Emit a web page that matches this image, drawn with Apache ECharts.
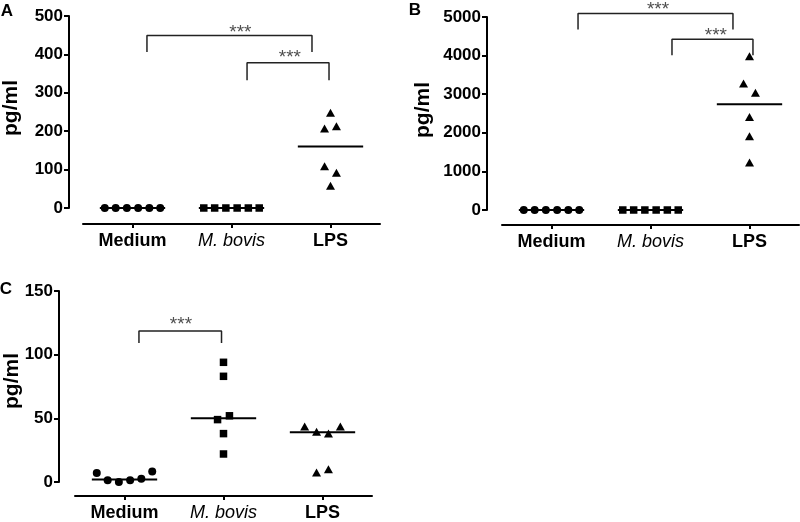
<!DOCTYPE html>
<html>
<head>
<meta charset="utf-8">
<script src="https://cdn.jsdelivr.net/npm/echarts@6/dist/echarts.min.js"></script>
<style>html,body{margin:0;padding:0;background:#fff;}#c{width:800px;height:522px;}</style>
</head>
<body>
<div id="c"></div>
<script>
// ---------- data ----------
const categories = ['Medium', 'M. bovis', 'LPS'];

// Panel A
const aTicks = [0, 100, 200, 300, 400, 500];
const aMedium = [0, 0, 0, 0, 0, 0];
const aBovis = [0, 0, 0, 0, 0, 0];
const aLPS = [248, 207, 213, 109, 92, 58];
const aMedians = [0, 0, 160];
// Panel B
const bTicks = [0, 1000, 2000, 3000, 4000, 5000];
const bMedium = [0, 0, 0, 0, 0, 0];
const bBovis = [0, 0, 0, 0, 0, 0];
const bLPS = [3980, 3280, 3040, 2410, 1910, 1230];
const bMedians = [0, 0, 2740];
// Panel C
const cTicks = [0, 50, 100, 150];
const cMedium = [7, 1.3, 0, 1.3, 2.6, 8.3];
const cBovis = [94, 83, 49, 52, 38, 22];
const cLPS = [43.5, 39.5, 38, 43.5, 7.5, 10];
const cMedians = [2, 50, 39];

// horizontal scatter of points within a category (category units)
const spread6 = [-0.28, -0.17, -0.057, 0.057, 0.17, 0.28];
const aLPSJitter = [0, -0.06, 0.06, -0.06, 0.06, 0];
const bLPSJitter = [0, -0.06, 0.06, 0, 0, 0];
const cBovisJitter = [0, 0, -0.06, 0.06, 0, 0];
const cLPSJitter = [-0.18, -0.06, 0.06, 0.18, -0.06, 0.06];

// significance brackets: [fromCat, toCat, topValue, endValue]
const aBrackets = [[0.146, 1.813, 449, 406], [1.157, 1.985, 378, 333]];
const bBrackets = [[0.268, 1.833, 5088, 4674], [1.217, 2.035, 4422, 4008]];
const cBrackets = [[0.146, 0.98, 118.6, 109.2]];
// star labels: [cat, value]
const aStars = [[1.09, 466], [1.59, 401]];
const bStars = [[1.076, 5303], [1.66, 4630]];
const cStars = [[0.57, 127]];

// ---------- chart ----------
const FONT = 'Liberation Sans, Arial, sans-serif';
const chart = echarts.init(document.getElementById('c'), null, {renderer: 'canvas'});

const grids = [
  {left: 83, top: 16, width: 297, height: 192},
  {left: 502, top: 17, width: 297, height: 193},
  {left: 75, top: 291, width: 297, height: 191}
];
const xOffsets = [16, 15, 14];
const yOffsets = [14, 15, 16];
const panels = [
  {ticks: aTicks, groups: [[aMedium, spread6], [aBovis, spread6], [aLPS, aLPSJitter]], med: aMedians, br: aBrackets, st: aStars},
  {ticks: bTicks, groups: [[bMedium, spread6], [bBovis, spread6], [bLPS, bLPSJitter]], med: bMedians, br: bBrackets, st: bStars},
  {ticks: cTicks, groups: [[cMedium, spread6], [cBovis, cBovisJitter], [cLPS, cLPSJitter]], med: cMedians, br: cBrackets, st: cStars}
];
const symbols = ['circle', 'rect', 'triangle'];
const symSizes = [8, 7.5, [9, 8]];

const xAxis = [], yAxis = [], series = [];
panels.forEach((p, i) => {
  xAxis.push({
    type: 'category', gridIndex: i, data: categories, offset: xOffsets[i],
    boundaryGap: true,
    axisLine: {show: true, onZero: false, lineStyle: {color: '#000', width: 2}},
    axisTick: {show: true, alignWithLabel: true, length: 4, lineStyle: {color: '#000', width: 2}},
    axisLabel: {
      margin: 8, color: '#000',
      formatter: v => v === 'M. bovis' ? '{it|' + v + '}' : '{b|' + v + '}',
      rich: {
        it: {fontFamily: FONT, fontSize: 18, fontStyle: 'italic', fontWeight: 'normal', color: '#000'},
        b: {fontFamily: FONT, fontSize: 18, fontWeight: 'bold', color: '#000'}
      }
    },
    splitLine: {show: false}
  });
  xAxis.push({type: 'value', gridIndex: i, min: -0.5, max: 2.5, show: false,
              axisLine: {onZero: false}});
  const t = p.ticks;
  yAxis.push({
    type: 'value', gridIndex: i, min: t[0], max: t[t.length - 1], interval: t[1] - t[0],
    offset: yOffsets[i],
    axisLine: {show: true, onZero: false, lineStyle: {color: '#000', width: 2}},
    axisTick: {show: true, length: 5, lineStyle: {color: '#000', width: 2}},
    axisLabel: {margin: 6, color: '#000', fontFamily: FONT, fontSize: 17, fontWeight: 'bold',
                formatter: v => String(v)},
    splitLine: {show: false}
  });
  const xi = 2 * i + 1;
  p.groups.forEach((g, k) => {
    const vals = g[0], off = g[1];
    series.push({
      type: 'scatter', xAxisIndex: xi, yAxisIndex: i,
      symbol: symbols[k], symbolSize: symSizes[k],
      itemStyle: {color: '#000', opacity: 1},
      data: vals.map((v, j) => [k + off[j], v]),
      z: 3
    });
    series.push({
      type: 'line', xAxisIndex: xi, yAxisIndex: i, symbol: 'none',
      lineStyle: {color: '#000', width: 2},
      data: [[k - 0.33, p.med[k]], [k + 0.33, p.med[k]]],
      z: 2
    });
  });
  p.br.forEach(b => {
    series.push({
      type: 'line', xAxisIndex: xi, yAxisIndex: i, symbol: 'none', clip: false,
      lineStyle: {color: '#222', width: 1.5},
      data: [[b[0], b[3]], [b[0], b[2]], [b[1], b[2]], [b[1], b[3]]]
    });
  });
  series.push({
    type: 'scatter', xAxisIndex: xi, yAxisIndex: i, clip: false,
    symbolSize: 1, itemStyle: {color: 'rgba(0,0,0,0)'},
    label: {show: true, position: 'inside', formatter: '***', offset: [0, 4],
            fontFamily: FONT, fontSize: 19, color: '#222'},
    data: p.st
  });
});

const letters = [['A', 7, 11], ['B', 415, 10], ['C', 6, 289]];
const yNames = [[11, 108], [423, 110], [12, 381]];
const graphic = [];
letters.forEach(l => graphic.push({
  type: 'text', x: l[1], y: l[2],
  style: {text: l[0], fontFamily: FONT, fontSize: 17, fontWeight: 'bold', fill: '#000',
          align: 'center', verticalAlign: 'middle'}
}));
yNames.forEach(n => graphic.push({
  type: 'text', x: n[0], y: n[1], rotation: Math.PI / 2,
  style: {text: 'pg/ml', fontFamily: FONT, fontSize: 21, fontWeight: 'bold', fill: '#000',
          align: 'center', verticalAlign: 'middle'}
}));

chart.setOption({
  animation: false,
  backgroundColor: '#fff',
  grid: grids,
  xAxis: xAxis,
  yAxis: yAxis,
  series: series,
  graphic: graphic
});
</script>
</body>
</html>
